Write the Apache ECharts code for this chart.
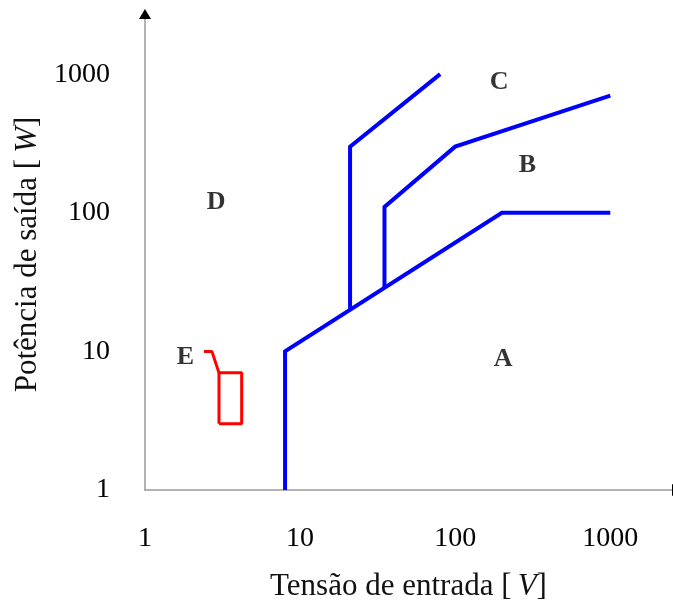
<!DOCTYPE html>
<html><head><meta charset="utf-8">
<script src="https://cdn.jsdelivr.net/npm/echarts@6/dist/echarts.min.js"></script>
<style>html,body{margin:0;padding:0;background:#fff}#chart{width:673px;height:602px}</style>
</head><body><div id="chart"></div>
<script>
// Axis decades that get a label
const xTicks = [1, 10, 100, 1000];
const yTicks = [1, 10, 100, 1000];
const axisMax = 2500;

// Region boundaries (input voltage V, output power W)
const boundaryA = [[8, 1], [8, 10], [200, 100], [1000, 100]];
const boundaryC = [[21, 20], [21, 300], [80, 1000]];
const boundaryB = [[35, 28.7], [35, 110], [100, 300], [1000, 700]];
const regionE = [[3, 3], [3, 7], [4.2, 7], [4.2, 3], [3, 3]];
const regionELeader = [[2.4, 10], [2.7, 10], [3, 7]];

// Region letters and where they sit
const regionNames = ['A', 'B', 'C', 'D', 'E'];
const regionX = [204, 292, 192, 2.87, 1.82];
const regionY = [8.8, 220, 870, 120, 9.0];

const serif = '"Liberation Serif", "DejaVu Serif", serif';
const isTick = (list, v) => list.some(t => Math.abs(v - t) / t < 1e-6);

const chart = echarts.init(document.getElementById('chart'));

const blueLine = data => ({
  type: 'line', data, symbol: 'none', silent: true,
  lineStyle: { color: '#0000ff', width: 4, join: 'miter' }
});
const redLine = data => ({
  type: 'line', data, symbol: 'none', silent: true,
  lineStyle: { color: '#ff0000', width: 3 }
});

const nameRich = {
  n: { fontFamily: serif, fontSize: 31, color: '#111' },
  i: { fontFamily: serif, fontSize: 31, fontStyle: 'italic', color: '#111' }
};

chart.setOption({
  animation: false,
  backgroundColor: '#fff',
  grid: { left: 145, right: 1, top: 19, bottom: 112, containLabel: false, outerBoundsMode: 'none' },
  xAxis: {
    type: 'log', logBase: 10, min: 1, max: axisMax,
    axisLine: { show: true, lineStyle: { color: '#9a9a9a', width: 1.5 } },
    axisTick: { show: false }, splitLine: { show: false },
    axisLabel: {
      margin: 35, fontFamily: serif, fontSize: 28, color: '#000',
      showMaxLabel: false,
      formatter: v => isTick(xTicks, v) ? String(Math.round(v)) : ''
    },
    name: '{n|Tensão de entrada [\u2009}{i|V}{n|]}',
    nameLocation: 'middle', nameGap: 81,
    nameTextStyle: { rich: nameRich }
  },
  yAxis: {
    type: 'log', logBase: 10, min: 1, max: axisMax,
    axisLine: { show: true, lineStyle: { color: '#9a9a9a', width: 1.5 } },
    axisTick: { show: false }, splitLine: { show: false },
    axisLabel: {
      margin: 35, fontFamily: serif, fontSize: 28, color: '#000',
      showMaxLabel: false,
      formatter: v => isTick(yTicks, v) ? String(Math.round(v)) : ''
    },
    name: '{n|Potência de saída [\u2009}{i|W}{n|]}',
    nameLocation: 'middle', nameGap: 102, nameRotate: 90,
    nameTextStyle: { rich: nameRich }
  },
  series: [
    blueLine(boundaryA),
    blueLine(boundaryC),
    blueLine(boundaryB),
    redLine(regionE),
    redLine(regionELeader),
    {
      type: 'scatter', symbolSize: 0, silent: true,
      data: regionNames.map((n, i) => ({ name: n, value: [regionX[i], regionY[i]] })),
      label: {
        show: true, position: 'inside', formatter: '{b}',
        fontFamily: serif, fontWeight: 'bold', fontSize: 26, color: '#000'
      }
    }
  ]
});

// Arrowheads at the far ends of both axes
const xEnd = chart.convertToPixel({ gridIndex: 0 }, [axisMax, 1]);
const yEnd = chart.convertToPixel({ gridIndex: 0 }, [1, axisMax]);
chart.setOption({
  graphic: [
    { type: 'polygon', z: 100, shape: { points: [[xEnd[0], xEnd[1] - 6], [xEnd[0] + 10, xEnd[1]], [xEnd[0], xEnd[1] + 6]] }, style: { fill: '#000' } },
    { type: 'polygon', z: 100, shape: { points: [[yEnd[0] - 6, yEnd[1]], [yEnd[0], yEnd[1] - 10], [yEnd[0] + 6, yEnd[1]]] }, style: { fill: '#000' } }
  ]
});
</script>
</body></html>
